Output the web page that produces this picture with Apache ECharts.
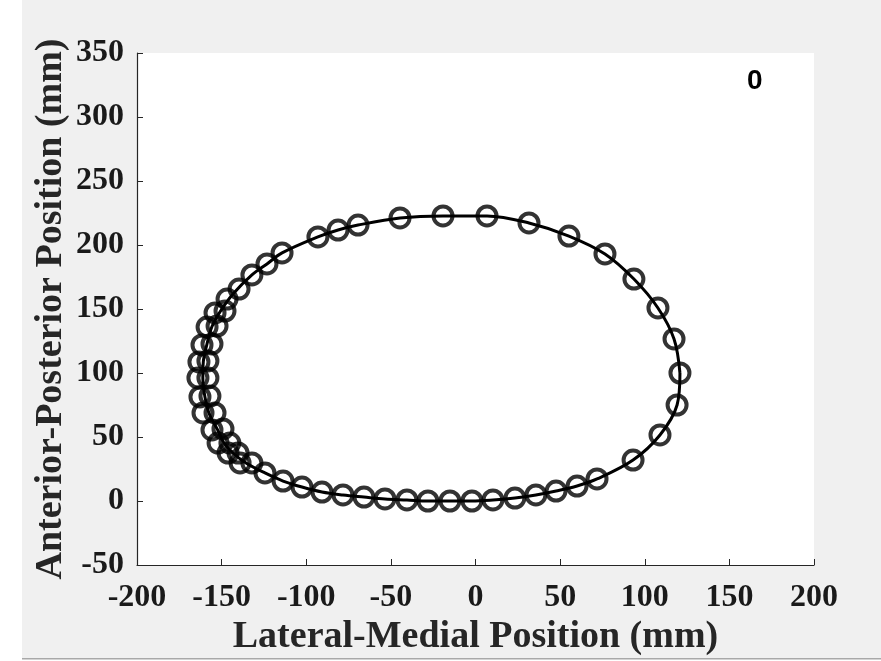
<!DOCTYPE html>
<html>
<head>
<meta charset="utf-8">
<script src="https://cdn.jsdelivr.net/npm/echarts@6/dist/echarts.min.js"></script>
<style>
html,body{margin:0;padding:0;background:#ffffff;}
#chart{width:881px;height:661px;}
</style>
</head>
<body>
<div id="chart"></div>
<script>
// Circle marker centres (mm)
const markerX = [120.8,117.3,107.8,93.6,76.5,55.2,31.6,6.8,-19.2,-44.6,-69.4,-81.2,-93.1,-114.3,-123.2,-132.1,
  -139.7,-146.8,-148.0,-153.9,-152.7,-158.6,-155.7,-161.6,-158.1,-163.4,-158.1,-164.0,-156.9,-162.8,-153.9,-161.0,
  -149.2,-155.7,-145.1,-152.1,-140.3,-146.2,-132.1,-139.1,
  -124.4,-113.7,-102.5,-90.7,-78.3,-65.9,-53.5,-40.5,-28.1,-15.1,-2.1,10.3,23.3,35.7,47.6,60.0,71.8,93.1,109.0,119.1];
const markerY = [100.0,126.6,150.8,173.4,193.0,207.0,217.2,222.7,222.7,221.1,215.6,211.7,206.3,193.8,185.2,176.6,
  165.6,157.8,148.4,146.9,136.7,135.9,122.7,121.9,109.4,108.6,96.1,96.1,82.0,81.3,68.8,68.8,
  56.3,55.5,45.3,45.3,37.5,37.5,29.7,29.7,
  21.9,15.6,10.9,7.0,4.7,3.1,1.6,0.8,0.0,0.0,0.0,0.8,2.3,4.7,7.8,11.7,17.2,32.0,51.6,75.0];
// Trajectory line (mm)
const pathX = [120.8,117.3,107.8,93.6,76.5,55.2,31.6,6.8,-19.2,-44.6,-69.4,-81.2,-93.1,-114.3,-123.2,-132.1,
  -143.3,-151.0,-155.7,-158.7,-160.8,-161.1,-159.9,-157.5,-152.5,-148.6,-143.3,-135.6,
  -124.4,-113.7,-102.5,-90.7,-78.3,-65.9,-53.5,-40.5,-28.1,-15.1,-2.1,10.3,23.3,35.7,47.6,60.0,71.8,93.1,109.0,119.1,120.8];
const pathY = [100.0,126.6,150.8,173.4,193.0,207.0,217.2,222.7,222.7,221.1,215.6,211.7,206.3,193.8,185.2,176.6,
  161.7,147.7,136.3,122.3,109.0,96.1,81.7,68.8,55.9,45.3,37.5,29.7,
  21.9,15.6,10.9,7.0,4.7,3.1,1.6,0.8,0.0,0.0,0.0,0.8,2.3,4.7,7.8,11.7,17.2,32.0,51.6,75.0,100.0];
const xTickRange = [-200, 200, 50];
const yTickRange = [-50, 350, 50];
const xTitle = 'Lateral-Medial Position (mm)';
const yTitle = 'Anterior-Posterior Position (mm)';
const frameLabel = '0';

const chart = echarts.init(document.getElementById('chart'), null, {renderer:'canvas'});
const serif = '"Liberation Serif","Times New Roman",serif';
const axisCol = '#262626';
const markerData = markerX.map((x,i)=>[x, markerY[i]]);
const pathData = pathX.map((x,i)=>[x, pathY[i]]);

chart.setOption({
  animation:false,
  backgroundColor:'#ffffff',
  graphic:[
    {type:'rect', z:-10, silent:true, shape:{x:22,y:0,width:859,height:659}, style:{fill:'#f0f0f0'}},
    {type:'rect', z:-9, silent:true, shape:{x:22,y:658,width:859,height:1.5}, style:{fill:'#a8a8a8'}},
    {type:'text', z:100, left:747, top:67, style:{text:frameLabel, font:'bold 28px "Liberation Sans", Arial, sans-serif', fill:'#000'}}
  ],
  grid:{left:137, right:67, top:53, bottom:96, show:true, backgroundColor:'#ffffff', borderWidth:0,
        containLabel:false, outerBoundsMode:'none'},
  xAxis:{
    type:'value', min:xTickRange[0], max:xTickRange[1], interval:xTickRange[2],
    name:xTitle, nameLocation:'middle', nameGap:53, nameMoveOverlap:false,
    nameTextStyle:{fontFamily:serif, fontWeight:'bold', fontSize:38, color:'#262626'},
    axisLine:{show:true, onZero:false, lineStyle:{color:axisCol, width:1.2}},
    axisTick:{show:true, inside:true, length:6, lineStyle:{color:axisCol, width:1}},
    axisLabel:{margin:17, fontFamily:serif, fontWeight:'bold', fontSize:32, color:'#1a1a1a'},
    splitLine:{show:false}
  },
  yAxis:{
    type:'value', min:yTickRange[0], max:yTickRange[1], interval:yTickRange[2],
    name:yTitle, nameLocation:'middle', nameGap:67, nameMoveOverlap:false,
    nameTextStyle:{fontFamily:serif, fontWeight:'bold', fontSize:38, color:'#262626'},
    axisLine:{show:true, onZero:false, lineStyle:{color:axisCol, width:1.2}},
    axisTick:{show:true, inside:true, length:6, lineStyle:{color:axisCol, width:1}},
    axisLabel:{margin:13, fontFamily:serif, fontWeight:'bold', fontSize:32, color:'#1a1a1a'},
    splitLine:{show:false}
  },
  series:[
    {type:'line', data:pathData, smooth:0.35, showSymbol:false, symbol:'none',
     lineStyle:{color:'#000', width:3}, z:2},
    {type:'scatter', data:markerData, symbol:'circle', symbolSize:19,
     itemStyle:{color:'rgba(0,0,0,0)', borderColor:'#000', borderWidth:4}, z:3}
  ]
});
</script>
</body>
</html>
